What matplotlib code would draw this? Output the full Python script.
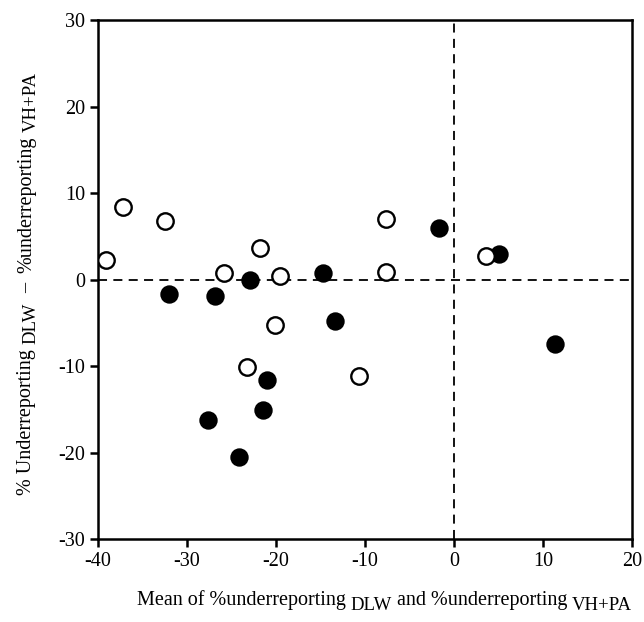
import matplotlib
matplotlib.use("Agg")
import matplotlib.pyplot as plt
from matplotlib.transforms import IdentityTransform

plt.rcParams['font.family'] = ['Liberation Serif', 'DejaVu Serif']
plt.rcParams['axes.unicode_minus'] = False

# Open circles
open_x = [-39.1, -37.2, -32.5, -25.8, -21.8, -19.5, -20.1, -23.2, -10.7, -7.6, -7.6, 3.6]
open_y = [2.25, 8.4, 6.8, 0.8, 3.7, 0.4, -5.2, -10.1, -11.1, 7.0, 0.9, 2.7]
# Filled circles
fill_x = [-32.0, -26.8, -22.9, -14.7, -13.4, -1.65, 5.1, 11.4, -21.0, -21.4, -27.6, -24.1]
fill_y = [-1.7, -1.9, 0.0, 0.8, -4.8, 6.0, 2.9, -7.4, -11.6, -15.1, -16.2, -20.5]

x_ticks = [-40, -30, -20, -10, 0, 10, 20]
y_ticks = [-30, -20, -10, 0, 10, 20, 30]

# label pieces: (text, is_subscript)
xlabel_parts = [("Mean of %underreporting", False), ("DLW", True),
                ("and %underreporting", False), ("VH+PA", True)]
ylabel_parts = [("% Underreporting", False), ("DLW", True), ("\u2013", False),
                ("%underreporting", False), ("VH+PA", True)]

fig = plt.figure(figsize=(6.44, 6.22), dpi=100)
ax = fig.add_axes([0.152, 0.1334, 0.829, 0.8344])

ax.axhline(0, color='black', lw=1.3, ls=(0, (5, 3.5)), zorder=1)
ax.axvline(0, color='black', lw=1.3, ls=(0, (5, 3.5)), zorder=1)

ax.scatter(fill_x, fill_y, s=140, facecolor='black', edgecolor='black', linewidths=1.4, zorder=3)
ax.scatter(open_x, open_y, s=140, facecolor='white', edgecolor='black', linewidths=1.7, zorder=4)

ax.set_xlim(-40, 20)
ax.set_ylim(-30, 30)
ax.set_xticks(x_ticks)
ax.set_yticks(y_ticks)
ax.tick_params(direction='out', length=6, width=1.8, labelsize=14.5, pad=3)
for sp in ax.spines.values():
    sp.set_linewidth(1.8)

fig.canvas.draw()
renderer = fig.canvas.get_renderer()

MAIN, SUB, DROP = 14.5, 13.5, 4.5


def place(parts, x0, y0, rotated, gaps):
    pos = 0.0
    for (s, is_sub), gap in zip(parts, gaps):
        t = fig.text(0, 0, s, fontsize=SUB if is_sub else MAIN,
                     transform=IdentityTransform(), ha='left', va='baseline',
                     rotation=90 if rotated else 0, rotation_mode='anchor')
        bb = t.get_window_extent(renderer)
        w = bb.height if rotated else bb.width
        pos += gap
        off = DROP if is_sub else 0.0
        if rotated:
            t.set_position((x0 + off, y0 + pos))
        else:
            t.set_position((x0 + pos, y0 - off))
        pos += w


H = 622
place(xlabel_parts, 137, H - 605, False, [0, 5, 5, 4])
place(ylabel_parts, 31, H - 495, True, [0, 5, 10, 10, 4])

fig.savefig('out.png', dpi=100)
